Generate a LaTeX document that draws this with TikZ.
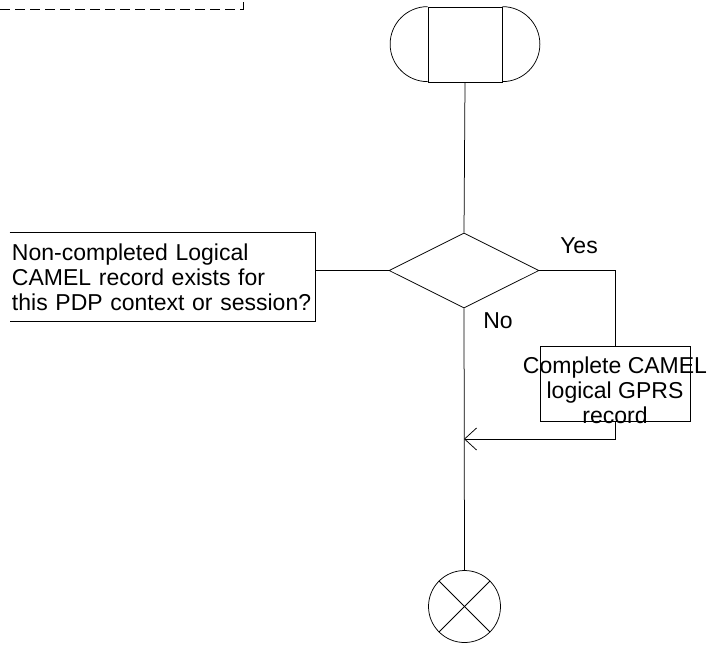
\documentclass[tikz,border=0pt]{standalone}
\usepackage{fontspec}
\setmainfont{Liberation Sans}
\usetikzlibrary{shapes.geometric,arrows.meta}

\begin{document}
\begin{tikzpicture}[x=1pt,y=-1pt,line width=0.75pt,
  >={Straight Barb[length=12pt,width=22pt]},
  lbl/.style={font=\fontsize{23}{25}\selectfont,inner sep=0pt},
  decbox/.style={draw,diamond,aspect=2,minimum width=150pt,minimum height=75pt,inner sep=0pt},
  procbox/.style={draw,rectangle,minimum width=150pt,minimum height=75pt,inner sep=0pt}]
\useasboundingbox (0,0) rectangle (708,646);
% dashed frame corner, top left
\draw[dash pattern=on 10pt off 5pt] (0,9) -- (243,9) -- (243,0);
% start symbol
\node[draw,rectangle,minimum width=74pt,minimum height=75pt,inner sep=0pt] (start) at (465,44.5) {};
\draw (start.north west) arc[start angle=90,end angle=270,radius=37.5pt];
\draw (start.north east) arc[start angle=90,end angle=-90,radius=37.5pt];
% decision
\node[decbox] (dec) at (464,270.5) {};
\node[lbl,text width=301pt,align=left,minimum width=305pt,minimum height=88pt,inner xsep=2pt] (qbox) at (162.5,277)
  {Non-completed Logical\\CAMEL record exists for\\this PDP context or session?};
\draw (qbox.north west) -- (qbox.north east) -- (qbox.south east) -- (qbox.south west);
\node[lbl] (yes) at (579,246) {Yes};
\node[lbl] (no) at (498,321) {No};
% completion step
\node[procbox] (cmp) at (615,383.5) {};
\node[lbl,align=center] (cmptxt) at (615,390) {Complete CAMEL\\logical GPRS\\record};
% end symbol
\node[draw,circle,minimum size=72pt,inner sep=0pt] (stop) at (464.5,606.5) {};
\draw (stop.north west) -- (stop.south east);
\draw (stop.north east) -- (stop.south west);
% connectors
\coordinate (mrg) at (dec.south |- 0,439);
\draw (start.south) -- (dec.north);
\draw (dec.west) -- (dec.west -| qbox.east);
\draw (dec.east) -| (cmp.north);
\draw[->] (cmp.south) |- (mrg);
\draw (dec.south) -- (stop.north);
\end{tikzpicture}
\end{document}
